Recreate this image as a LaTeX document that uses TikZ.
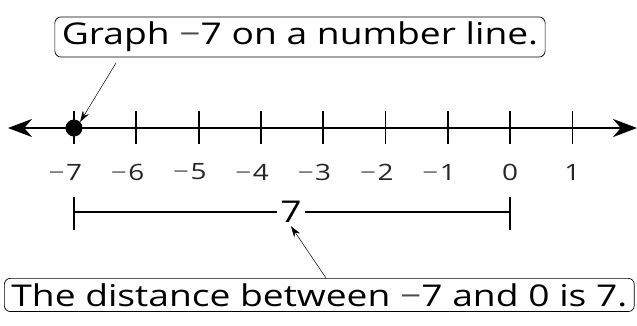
\documentclass[tikz,border=0pt]{standalone}
\usepackage{fontspec}
\setmainfont[FakeStretch=1.24]{Open Sans}
\usetikzlibrary{arrows.meta,positioning}

\begin{document}
\begin{tikzpicture}[x=1pt,y=-1pt,
  callout/.style={draw, rounded corners=6pt, line width=0.7pt, inner xsep=7pt, inner ysep=5pt,
    font=\fontsize{30}{33}\selectfont},
  pointer/.style={-{Stealth[length=11pt,width=7pt]}, line width=0.5pt},
  numlabel/.style={font=\fontsize{22.5}{24}\selectfont, text=black!85},
  tickmark/.style={line width=1.8pt}
]
\useasboundingbox (0,0) rectangle (637,325);
\clip (0,0) rectangle (637,325);

% --- Number line ---
\draw[line width=2.8pt, {Stealth[length=24pt,width=18pt]}-{Stealth[length=24pt,width=18pt]}]
  (8,128) -- (637,128);
\foreach \n [count=\i from 0] in {-7,...,1} {
  \coordinate (t\i) at (74+62.3*\i,128);
  \draw[tickmark] (74+62.3*\i,111) -- (74+62.3*\i,144);
}
\foreach \n [count=\i from 0] in {7,6,5,4,3,2,1} {
  \node[numlabel] (lab\i) at (74+62.3*\i,172) {\llap{\textcolor{black!60}{−}\kern1.5pt}\n};
}
\node[numlabel] (lab7) at (t7 |- 0,172) {0};
\node[numlabel] (lab8) at (t8 |- 0,172) {1};

% the point at -7
\node[circle, fill=black, inner sep=0pt, minimum size=17pt] (dot) at (t0) {};

% --- Distance bracket ---
\node[font=\fontsize{30}{33}\selectfont, inner xsep=3pt] (dist) at (291,212) {7};
\coordinate (left) at (74,212);
\coordinate (right) at (510,212);
\draw[line width=1.5pt] (left) -- (dist.west);
\draw[line width=1.5pt] (dist.east) -- (right);
\draw[line width=1.5pt] (74,197) -- (74,230);
\draw[line width=1.5pt] (510,197) -- (510,230);

% --- Callouts ---
\node[callout] (top) at (300,37) {Graph  \textcolor{black!70}{−}7 on a number line.};
\node[callout, anchor=north west] (bottom) at (4,278) {The distance between  \textcolor{black!70}{−}7 and 0 is 7.\hspace{20pt}};

\coordinate (topfoot) at (116,63);
\coordinate (botfoot) at (326,278);
\draw[pointer] (topfoot) -- (dot.north east);
\draw[pointer] (botfoot) -- (dist.south);
\end{tikzpicture}
\end{document}
